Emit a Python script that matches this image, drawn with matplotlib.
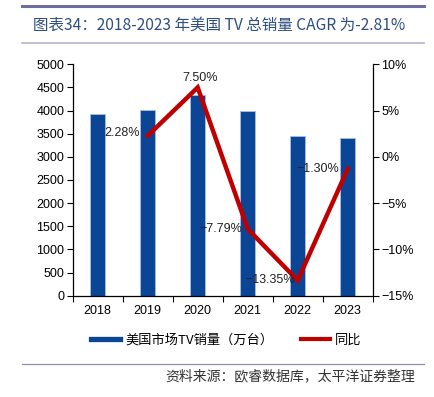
import matplotlib
matplotlib.use("Agg")
import matplotlib.pyplot as plt
import numpy as np
from matplotlib.lines import Line2D
from matplotlib.ticker import FuncFormatter

plt.rcParams['font.family'] = ['Liberation Sans', 'Noto Sans CJK SC', 'DejaVu Sans']

# data
years = ["2018", "2019", "2020", "2021", "2022", "2023"]
sales = [3930, 4020, 4330, 3990, 3460, 3410]          # 万台
yoy_years = ["2019", "2020", "2021", "2022", "2023"]
yoy = [2.28, 7.50, -7.79, -13.35, -1.30]               # %

title = "图表34：2018-2023 年美国 TV 总销量 CAGR 为-2.81%"
source = "资料来源：欧睿数据库，太平洋证券整理"

bar_col = "#0B4596"
line_col = "#C00000"

fig = plt.figure(figsize=(4.34, 3.97), dpi=100)

# header / footer rules
fig.add_artist(Line2D([22/434, 424/434], [1-6/397, 1-6/397], color="#6E6E9E", lw=2.2))
fig.add_artist(Line2D([22/434, 424/434], [1-43/397, 1-43/397], color="#B4B4D2", lw=1.2))
fig.add_artist(Line2D([22/434, 424/434], [1-364/397, 1-364/397], color="#9090B0", lw=0.9))
fig.text(33/434, 1-25/397, title, fontsize=11.2, color="#2E4F82", va="center", ha="left",
         family=['Noto Sans CJK SC', 'DejaVu Sans'])
fig.text(415/434, 1-376/397, source, fontsize=10, color="#333333", va="center", ha="right",
         style="italic", family=['Noto Sans CJK SC', 'DejaVu Sans'])

ax = fig.add_axes([72.7/434, 1-295.7/397, 300/434, (295.7-64.3)/397])
x = np.arange(len(years))
ax.bar(x, sales, width=0.31, color=bar_col, edgecolor="#A9C0E6", linewidth=0.6, zorder=2)
ax.set_xlim(-0.5, len(years) - 0.5)
ax.set_ylim(0, 5000)
ax.set_yticks(np.arange(0, 5001, 500))
ax.set_xticks(x)
ax.set_xticklabels(years)
ax.set_xticks(np.arange(-0.5, len(years), 1), minor=True)
ax.tick_params(axis="x", which="major", length=0, labelsize=9, pad=7)
ax.tick_params(axis="x", which="minor", length=4, direction="out", width=0.8)
ax.tick_params(axis="y", length=4, width=0.8, labelsize=9, pad=2)
ax.spines["top"].set_visible(False)
ax.spines["right"].set_visible(False)
for s in ["left", "bottom"]:
    ax.spines[s].set_linewidth(0.9)

ax2 = ax.twinx()
xi = [years.index(y) for y in yoy_years]
ax2.plot(xi, yoy, color=line_col, lw=3.2, solid_joinstyle="miter", zorder=3)
ax2.set_ylim(-15, 10)
ax2.set_yticks(np.arange(-15, 11, 5))
ax2.yaxis.set_major_formatter(FuncFormatter(lambda v, p: ("%d%%" % v).replace("-", "\u2212")))
ax2.tick_params(axis="y", length=4, width=0.8, labelsize=9, pad=2)
ax2.spines["top"].set_visible(False)
ax2.spines["left"].set_visible(False)
ax2.spines["bottom"].set_visible(False)
ax2.spines["right"].set_linewidth(0.9)

# point labels (offsets in points)
offsets = [(-6, 2, "right"), (2, 7, "center"), (-4, 0, "right"),
           (-2, 0, "right"), (-6.5, 0, "right")]
for xx, v, (dx, dy, ha) in zip(xi, yoy, offsets):
    lbl = ("%.2f%%" % v).replace("-", "\u2212")
    ax2.annotate(lbl, (xx, v), xytext=(dx, dy), textcoords="offset points",
                 ha=ha, va="center", fontsize=9, color="#222222", zorder=4)

handles = [Line2D([], [], color=bar_col, lw=3.8), Line2D([], [], color=line_col, lw=3)]
fig.legend(handles, ["美国市场TV销量（万台）", "同比"], loc="center", ncol=2,
           bbox_to_anchor=(0.522, 1-340/397), frameon=False,
           handlelength=2.2, handletextpad=0.38, columnspacing=2.1,
           prop={'family': ['Noto Sans CJK SC', 'DejaVu Sans'], 'size': 9.5})

fig.savefig("out.png", dpi=100)
